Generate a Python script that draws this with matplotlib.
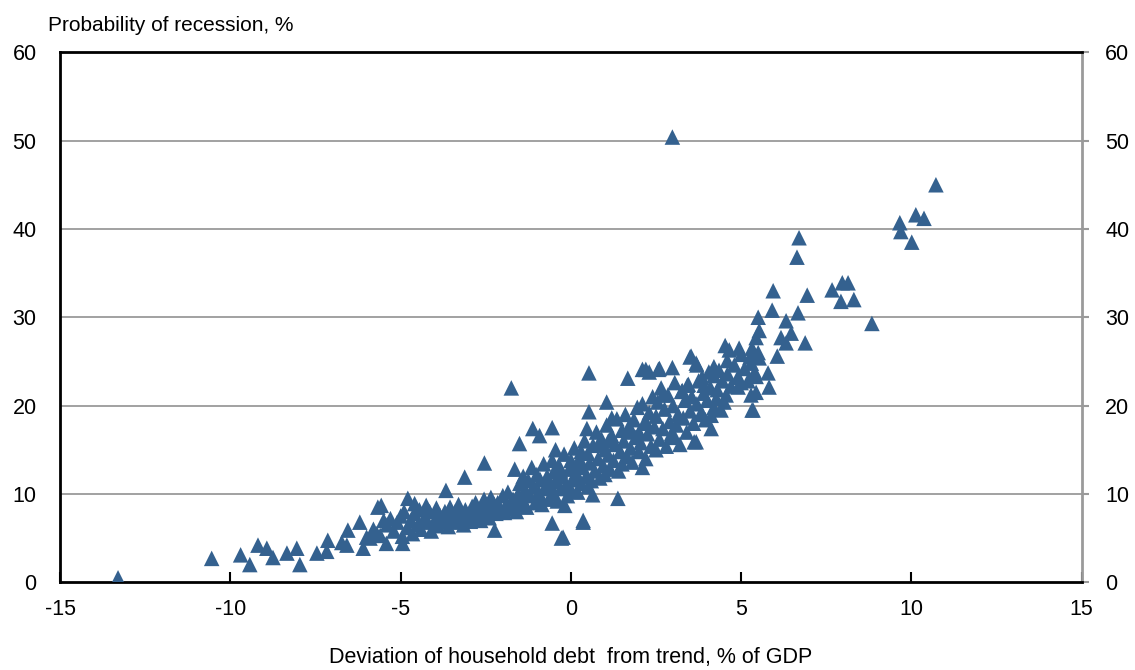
import matplotlib
matplotlib.use("Agg")
import matplotlib.pyplot as plt
import numpy as np

plt.rcParams['font.family'] = ['Liberation Sans', 'DejaVu Sans']

# puntos leidos a ojo del grafico (desviacion de deuda, probabilidad de recesion)
puntos = [
    # cola izquierda
    (-13.3, 0.5), (-10.55, 2.7), (-9.7, 3.1), (-9.43, 2.0), (-9.19, 4.2), (-8.93, 3.85),
    (-8.75, 2.8), (-8.34, 3.3), (-8.05, 3.85), (-7.96, 2.0), (-7.46, 3.3), (-7.14, 4.75),
    (-7.17, 3.5), (-6.73, 4.5), (-6.58, 4.2), (-6.55, 5.9), (-6.2, 6.8), (-6.1, 3.85),
    (-6.0, 5.1), (-5.67, 8.5), (-5.7, 5.5), (-5.9, 5.0), (-5.8, 6.0), (-5.6, 5.3), (-5.5, 7.0),
    (-5.57, 8.7), (-5.42, 4.4), (-4.94, 4.4), (-4.79, 9.5), (-4.59, 8.9), (-4.25, 8.7),
    (-3.67, 10.4), (-3.12, 11.9), (-2.54, 13.5), (-2.24, 5.9),
    # banda -5.5 .. -4.5
    (-5.4, 6.5), (-5.3, 7.2), (-5.2, 5.8), (-5.1, 6.8), (-5.0, 7.5), (-4.95, 5.2), (-4.9, 8.0),
    (-4.8, 6.2), (-4.7, 7.0), (-4.65, 5.5), (-4.6, 7.8), (-4.5, 6.5), (-4.45, 8.2),
    # -4.5 .. -3.5
    (-4.4, 6.0), (-4.3, 7.3), (-4.2, 6.8), (-4.15, 8.0), (-4.1, 5.8), (-4.0, 7.0), (-3.95, 8.4),
    (-3.9, 6.4), (-3.85, 7.6), (-3.8, 6.9), (-3.7, 8.0), (-3.65, 7.2), (-3.6, 6.3), (-3.55, 8.5),
    (-3.5, 7.5), (-3.45, 6.8),
    # -3.5 .. -2.5
    (-3.4, 8.0), (-3.35, 7.0), (-3.3, 8.8), (-3.2, 7.4), (-3.15, 6.5), (-3.1, 8.2), (-3.0, 7.7),
    (-2.95, 6.9), (-2.9, 8.6), (-2.85, 7.3), (-2.8, 9.0), (-2.7, 7.9), (-2.65, 7.0), (-2.6, 8.4),
    (-2.55, 9.4), (-2.5, 7.6), (-3.25, 7.8), (-2.75, 8.2), (-3.05, 7.2),
    # -2.5 .. -1.5
    (-2.45, 8.8), (-2.4, 7.3), (-2.35, 9.6), (-2.3, 8.2), (-2.2, 7.8), (-2.15, 9.0), (-2.1, 8.5),
    (-2.0, 9.8), (-1.95, 7.9), (-1.9, 8.8), (-1.85, 10.2), (-1.8, 8.3), (-1.7, 9.4), (-1.65, 12.8),
    (-1.6, 8.0), (-1.55, 10.0), (-1.5, 11.2), (-1.5, 8.8), (-2.25, 8.8), (-1.75, 9.0),
    # -1.5 .. -0.5
    (-1.75, 22.0), (-1.12, 17.4), (-0.92, 16.6), (-0.55, 17.5), (-1.51, 15.7), (-0.45, 15.0),
    (-0.28, 5.0), (-0.55, 6.7), (-0.23, 5.1), (-0.18, 8.7),
    (-1.45, 9.5), (-1.4, 12.0), (-1.35, 10.5), (-1.3, 8.5), (-1.25, 11.5), (-1.2, 9.8),
    (-1.15, 13.0), (-1.1, 10.8), (-1.05, 9.0), (-1.0, 12.2), (-0.95, 10.2), (-0.9, 11.6),
    (-0.85, 8.8), (-0.8, 13.4), (-0.75, 10.6), (-0.7, 12.0), (-0.65, 9.4), (-0.6, 11.0),
    (-0.55, 13.8), (-0.5, 10.0), (-0.5, 12.5), (-1.3, 10.0), (-0.9, 9.6), (-0.7, 11.2),
    # -0.5 .. 0.5
    (-0.45, 11.4), (-0.4, 9.2), (-0.35, 13.2), (-0.3, 10.6), (-0.25, 12.0), (-0.2, 14.5),
    (-0.15, 11.0), (-0.1, 9.8), (-0.05, 12.8), (0.0, 10.5), (0.0, 13.8), (0.05, 11.6),
    (0.1, 15.2), (0.15, 12.4), (0.2, 10.2), (0.25, 14.0), (0.3, 11.2), (0.35, 13.0),
    (0.4, 16.0), (0.45, 12.0), (0.5, 14.6), (0.5, 10.8), (0.36, 6.8), (0.36, 7.0), (0.64, 9.9),
    (-0.3, 12.6), (0.1, 12.0), (0.2, 13.4), (0.3, 14.8),
    # 0.5 .. 1.5
    (0.53, 23.7), (1.05, 20.4), (0.53, 19.3), (1.2, 18.6), (0.47, 17.4), (1.38, 9.5),
    (0.55, 13.5), (0.6, 11.5), (0.65, 15.5), (0.7, 12.6), (0.75, 17.0), (0.8, 14.0),
    (0.85, 11.8), (0.9, 16.2), (0.95, 13.2), (1.0, 15.0), (1.0, 12.2), (1.05, 17.8),
    (1.1, 14.4), (1.15, 12.8), (1.2, 16.6), (1.25, 13.8), (1.3, 15.6), (1.35, 18.5),
    (1.4, 12.6), (1.45, 14.8), (1.5, 17.2), (1.5, 13.4), (0.8, 15.6), (1.1, 16.0),
    # 1.5 .. 2.5
    (1.67, 23.1), (2.1, 24.1), (2.2, 24.1), (2.1, 13.0),
    (1.55, 16.0), (1.6, 19.0), (1.65, 14.2), (1.7, 17.6), (1.75, 15.2), (1.8, 13.6),
    (1.85, 18.4), (1.9, 16.4), (1.95, 19.8), (2.0, 14.8), (2.0, 17.0), (2.05, 15.8),
    (2.1, 20.2), (2.15, 18.0), (2.2, 14.0), (2.25, 16.8), (2.3, 19.2), (2.35, 15.4),
    (2.4, 21.0), (2.45, 17.6), (2.5, 18.8), (2.5, 15.0), (1.8, 17.0), (2.2, 18.2),
    # 2.5 .. 3.5
    (2.57, 24.1), (2.98, 24.3), (3.53, 25.6), (3.68, 24.8), (3.62, 15.9), (3.04, 16.5),
    (2.98, 16.4), (2.6, 24.2), (2.3, 23.8), (2.7, 21.2), (3.27, 21.7), (3.42, 22.3),
    (2.55, 20.4), (2.6, 16.2), (2.65, 22.0), (2.7, 17.4), (2.75, 19.6), (2.8, 15.4),
    (2.85, 21.2), (2.9, 18.2), (2.95, 16.8), (3.0, 20.0), (3.05, 22.6), (3.1, 17.8),
    (3.15, 19.0), (3.2, 15.6), (3.25, 21.6), (3.3, 18.6), (3.35, 20.6), (3.4, 17.0),
    (3.45, 22.4), (3.5, 19.4),
    # 3.5 .. 4.5
    (3.5, 25.5), (3.7, 24.6), (4.2, 24.4), (3.85, 23.2), (4.2, 23.4), (3.91, 22.3),
    (4.27, 20.8), (4.56, 21.2), (4.12, 18.9), (4.41, 19.5), (4.12, 17.4), (3.68, 15.9),
    (3.85, 19.1),
    (3.55, 21.0), (3.6, 18.0), (3.7, 20.2), (3.75, 22.8), (3.8, 19.0), (3.9, 21.4),
    (3.95, 18.4), (4.0, 20.6), (4.05, 23.8), (4.1, 22.0), (4.2, 19.8), (4.3, 21.8),
    (4.35, 24.0), (4.45, 22.8), (4.5, 20.4),
    # 4.5 .. 6
    (4.53, 26.8), (4.94, 26.5), (5.32, 26.5), (4.65, 26.3), (4.59, 25.1), (5.26, 25.5),
    (5.53, 25.4), (6.06, 25.6), (5.44, 23.3), (5.79, 23.7), (5.0, 22.6), (4.91, 22.1),
    (5.82, 22.1), (5.44, 21.5), (5.29, 21.2), (5.35, 19.5), (5.32, 19.5),
    (4.6, 23.6), (4.7, 22.2), (4.8, 24.6), (4.9, 23.2), (5.0, 25.8), (5.1, 24.2),
    (5.2, 22.8), (5.3, 24.8), (5.4, 23.8), (5.5, 26.0),
    # cola derecha
    (6.64, 36.8), (6.7, 39.0), (5.94, 33.0), (6.94, 32.5), (7.67, 33.1), (7.97, 33.9),
    (8.14, 33.9), (7.93, 31.8), (8.31, 32.0), (8.84, 29.3), (5.91, 30.8), (6.67, 30.5),
    (5.5, 30.0), (6.32, 29.6), (5.53, 28.5), (6.47, 28.2), (6.17, 27.7), (6.32, 27.1),
    (6.88, 27.1), (5.44, 27.7),
    (10.72, 45.0), (10.13, 41.6), (10.37, 41.2), (9.66, 40.7), (9.69, 39.7), (10.01, 38.5),
    (2.98, 50.4),
]

deuda = np.array([p[0] for p in puntos])
prob = np.array([p[1] for p in puntos])

xticks = [-15, -10, -5, 0, 5, 10, 15]
yticks = [0, 10, 20, 30, 40, 50, 60]
azul = "#34618F"

fig = plt.figure(figsize=(11.35, 6.7), dpi=100)
ax = fig.add_axes([0.053, 0.131, 0.900, 0.791])

for y in yticks[1:-1]:
    ax.axhline(y, color="#9a9a9a", lw=1.3, zorder=1)

ax.scatter(deuda, prob, marker="^", s=125, color=azul, edgecolors="none", zorder=3)

ax.set_xlim(-15, 15)
ax.set_ylim(0, 60)
ax.set_xticks(xticks)
ax.set_xticklabels([str(t) for t in xticks], fontsize=15.5)
ax.set_yticks(yticks)
ax.set_yticklabels([str(t) for t in yticks], fontsize=15.5)
ax.tick_params(axis="x", direction="in", length=7, width=1.5, pad=12)
ax.tick_params(axis="y", left=False, right=True, labelright=True, direction="out",
               length=5, width=1.5, color="#9a9a9a", pad=12)

for lado in ["left", "top", "bottom"]:
    ax.spines[lado].set_color("black")
    ax.spines[lado].set_linewidth(2)
ax.spines["right"].set_color("#9a9a9a")
ax.spines["right"].set_linewidth(2)

fig.text(0.042, 0.962, "Probability of recession, %", fontsize=15, va="center", ha="left")
fig.text(0.503, 0.003, "Deviation of household debt  from trend, % of GDP", fontsize=15.5,
         ha="center", va="bottom")

plt.savefig("out.png", dpi=100)
plt.close()
